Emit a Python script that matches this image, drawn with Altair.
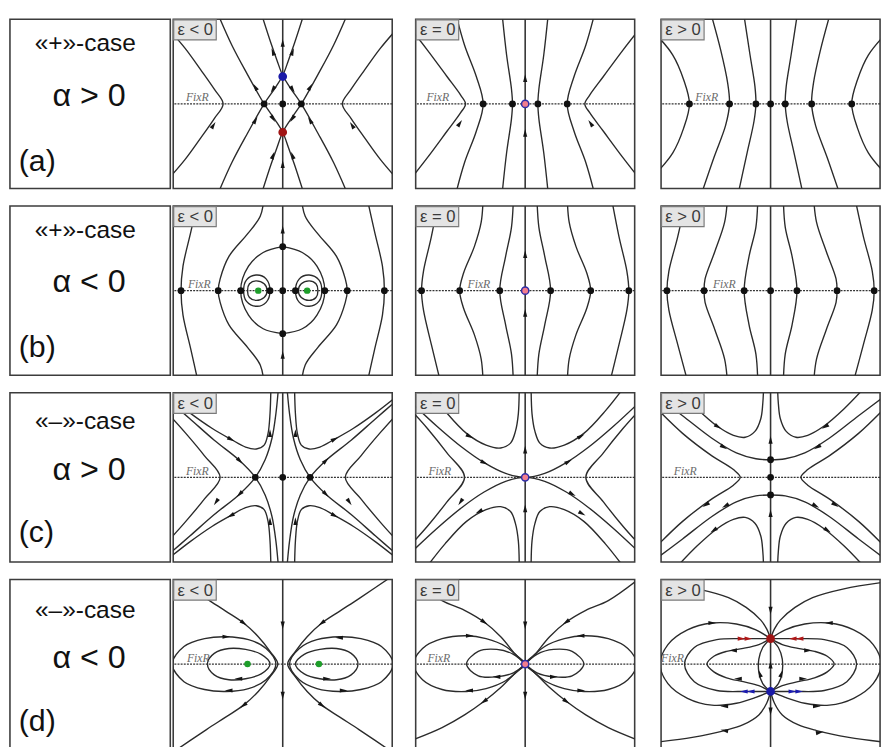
import altair as alt
import pandas as pd

# ---------------- layout / text ----------------
W, H = 224, 173
LW = 164
XDOM = [-112, 112]
YDOM = [-86.5, 86.5]

CASE_TEXT = ["«+»-case", "«+»-case", "«–»-case", "«–»-case"]
ALPHA_TEXT = ["α > 0", "α < 0", "α > 0", "α < 0"]
TAG_TEXT = ["(a)", "(b)", "(c)", "(d)"]
CASE_Y = [24, 25, 29, 31]
ALPHA_Y = [79, 78, 79, 81]
TAG_Y = [146, 145, 144, 146]
EPS_TEXT = ["ε < 0", "ε = 0", "ε > 0"]
FIXR_X = {"a1": -99, "a2": -101, "a3": -77, "b1": -97, "b2": -59, "b3": -59,
          "c1": -99, "c2": -99, "c3": -99, "d1": -98, "d2": -100, "d3": -112}

# ---------------- panel data (offsets from the panel centre, y up) ----------------
A1_CURVES = [
    ("x", [(-118, 78), (-100, 57), (-84, 35), (-70, 15), (-61, 0), (-70, -15), (-84, -35), (-100, -57), (-118, -78)]),
    ("xy", [(-68, 96), (-52, 60), (-36, 30), (-19, 0), (-8, -16), (0, -29), (6, -45), (12, -62), (23, -96)]),
]
A1_LOOPS = []
A1_ARROWS = [(-71, -22, 32), (71, -22, 328), (-28, 17, 330), (28, 17, 30), (-28, -17, 30), (28, -17, 330),
             (-10, 15, 213), (10, 15, 147), (-10, -15, 147), (10, -15, 213), (10, 53, 20), (-10, 53, 340),
             (10, -53, 340), (-10, -53, 20), (0, 62, 0), (0, -62, 0)]
A1_DOTS = [(-19, 0, "k"), (0, 0, "k"), (19, 0, "k"), (0, 28, "b"), (0, -29, "r")]

A2_CURVES = [
    ("x", [(-118, 78), (-100, 55), (-80, 28), (-66, 9), (-61, 0), (-66, -9), (-80, -28), (-100, -55), (-118, -78)]),
    ("x", [(-72, 96), (-62, 60), (-50, 28), (-43, 0), (-50, -28), (-62, -60), (-72, -96)]),
    ("x", [(-24, 96), (-19, 50), (-14, 15), (-13, 0), (-14, -15), (-19, -50), (-24, -96)]),
]
A2_LOOPS = []
A2_ARROWS = [(-67, -20, 35), (67, -20, 325), (0, 26, 0), (0, -30, 0)]
A2_DOTS = [(-43, 0, "k"), (-13, 0, "k"), (13, 0, "k"), (43, 0, "k"), (0, 0, "p")]

A3_CURVES = [
    ("x", [(-118, 72), (-100, 50), (-89, 25), (-83, 0), (-89, -25), (-100, -50), (-118, -72)]),
    ("x", [(-62, 96), (-51, 55), (-44, 22), (-42, 0), (-46, -22), (-58, -55), (-72, -96)]),
    ("x", [(-28, 96), (-21, 50), (-16, 18), (-15, 0), (-17, -18), (-24, -50), (-34, -96)]),
]
A3_LOOPS = []
A3_ARROWS = []
A3_DOTS = [(-83, 0, "k"), (-42, 0, "k"), (-15, 0, "k"), (0, 0, "k"), (15, 0, "k"), (42, 0, "k"), (83, 0, "k")]

B1_CURVES = [
    ("x", [(-86, 96), (-94, 60), (-102, 25), (-104, 0), (-102, -25), (-94, -60), (-86, -96)]),
    ("x", [(-19, 96), (-23, 76), (-36, 58), (-55, 35), (-64, 12), (-66, 0), (-64, -12), (-55, -35), (-36, -58), (-23, -76), (-19, -96)]),
    ("x", [(0, 45), (-20, 39), (-35, 25), (-43, 0), (-35, -25), (-20, -39), (0, -44)]),
]
B1_LOOPS = [
    ("x", [(-13, 0), (-17, 12), (-27, 16), (-37, 11), (-40, 0), (-37, -11), (-27, -16), (-17, -12)]),
    ("x", [(-16, 0), (-19, 7), (-27, 10), (-34, 7), (-36, 0), (-34, -7), (-27, -10), (-19, -7)]),
]
B1_ARROWS = [(0, 62, 0), (0, -66, 0)]
B1_DOTS = [(0, 45, "k"), (0, -44, "k"), (0, 0, "k"), (-104, 0, "k"), (-66, 0, "k"), (-43, 0, "k"), (-13, 0, "k"),
           (104, 0, "k"), (66, 0, "k"), (43, 0, "k"), (13, 0, "k"), (-25, 0, "g"), (25, 0, "g")]

B2_CURVES = [
    ("x", [(-88, 96), (-96, 55), (-104, 20), (-106, 0), (-104, -20), (-96, -55), (-86, -96)]),
    ("x", [(-43, 96), (-45, 70), (-52, 45), (-63, 18), (-67, 0), (-63, -18), (-52, -45), (-45, -70), (-43, -96)]),
    ("x", [(-12, 96), (-14, 65), (-20, 35), (-26, 0), (-20, -35), (-14, -65), (-12, -96)]),
]
B2_LOOPS = []
B2_ARROWS = [(0, 37, 0), (0, -23, 0)]
B2_DOTS = [(-106, 0, "k"), (-67, 0, "k"), (-26, 0, "k"), (26, 0, "k"), (67, 0, "k"), (106, 0, "k"), (0, 0, "p")]

B3_CURVES = [
    ("x", [(-86, 96), (-95, 55), (-104, 20), (-106, 0), (-104, -20), (-95, -55), (-84, -96)]),
    ("x", [(-44, 96), (-47, 70), (-57, 40), (-67, 12), (-68, 0), (-67, -12), (-57, -40), (-47, -70), (-44, -96)]),
    ("x", [(-13, 96), (-15, 65), (-22, 35), (-27, 0), (-22, -35), (-15, -65), (-13, -96)]),
]
B3_LOOPS = []
B3_ARROWS = []
B3_DOTS = [(-106, 0, "k"), (-68, 0, "k"), (-27, 0, "k"), (0, 0, "k"), (27, 0, "k"), (68, 0, "k"), (106, 0, "k")]

C1_CURVES = [
    ("x", [(-118, 66), (-100, 46), (-80, 22), (-64, 0), (-80, -22), (-100, -46), (-118, -66)]),
    ("xy", [(-118, 84), (-95, 66), (-72, 50), (-53, 39), (-38, 31), (-27, 29), (-19, 33), (-15, 45), (-13, 65), (-12, 96)]),
    ("xy", [(-118, 80), (-95, 60), (-70, 38), (-45, 18), (-28, 0), (-18, -18), (-11, -40), (-7, -65), (-4, -96)]),
]
C1_LOOPS = []
C1_ARROWS = [(-53, 39, 118), (-44, 17, 135), (-13, 45, 0), (-53, -39, 242), (-44, -17, 225), (-13, -45, 0),
             (53, 39, 62), (44, 17, 45), (13, 45, 0), (53, -39, 118), (44, -17, 135), (13, -45, 0),
             (-68, -25, 215), (68, -25, 145)]
C1_DOTS = [(-28, 0, "k"), (0, 0, "k"), (28, 0, "k")]

C2_CURVES = [
    ("x", [(-118, 70), (-100, 50), (-80, 25), (-62, 0), (-80, -25), (-100, -50), (-118, -70)]),
    ("xy", [(-104, 96), (-82, 68), (-60, 45), (-40, 33), (-25, 30), (-15, 35), (-10, 47), (-7, 65), (-6, 96)]),
    ("y", [(-118, 78), (-90, 52), (-65, 31), (-42, 15), (-20, 4), (0, 0), (20, 4), (42, 15), (65, 31), (90, 52), (118, 78)]),
]
C2_LOOPS = []
C2_ARROWS = [(-57, 42, 118), (-42, 15, 115), (-66, -25, 215), (-47, -35, 242), (44, 16, 60), (48, -17, 120),
             (58, -37, 120), (57, 42, 62), (0, 28, 0), (0, -32, 0)]
C2_DOTS = [(0, 0, "p")]

C3_CURVES = [
    ("x", [(-118, 72), (-90, 45), (-60, 22), (-38, 8), (-31, 0), (-38, -8), (-60, -22), (-90, -45), (-118, -72)]),
    ("y", [(-118, 84), (-90, 63), (-60, 40), (-35, 25), (-15, 19), (0, 18), (15, 19), (35, 25), (60, 40), (90, 63), (118, 84)]),
    ("xy", [(-100, 96), (-75, 70), (-54, 52), (-38, 43), (-26, 41), (-16, 47), (-10, 60), (-8, 75), (-7, 96)]),
]
C3_LOOPS = []
C3_ARROWS = [(0, 38, 0), (0, -37, 0), (-54, 52, 122), (-48, 31, 120), (56, 52, 238), (48, 31, 240),
             (-46, -29, 240), (46, -29, 120), (-58, -54, 236), (58, -54, 124), (-66, -28, 235), (66, -28, 125)]
C3_DOTS = [(0, 18, "k"), (0, 0, "k"), (0, -18, "k")]

D1_CURVES = [
    ("x", [(-115, 92), (-78, 67), (-58, 54), (-40, 42), (-25, 28), (-13, 13), (-5, 0), (-13, -13), (-25, -28),
           (-40, -42), (-58, -54), (-78, -67), (-115, -92)]),
]
D1_LOOPS = [
    ("x", [(-113, 0), (-101, 18), (-80, 26), (-58, 28), (-35, 25), (-17, 16), (-7, 0), (-17, -16), (-35, -25),
           (-58, -28), (-80, -26), (-101, -18)]),
    ("x", [(-77, 0), (-70, 11), (-55, 16), (-38, 15), (-22, 10), (-13, 0), (-22, -10), (-38, -15), (-55, -16), (-70, -11)]),
]
D1_ARROWS = [(-58, 28, 90), (-45, -15, 270), (-55, -27, 270), (58, 27, 270), (45, -15, 90), (62, -27, 90),
             (-40, 42, 127), (-40, -42, 233), (40, 42, 233), (40, -42, 127), (0, 40, 180), (0, -32, 180)]
D1_DOTS = [(-36, 0, "g"), (37, 0, "g")]

D2_CURVES = [
    ("x", [(0, 0), (-20, 18), (-40, 26), (-60, 29), (-85, 26), (-105, 16), (-114, 0), (-105, -16), (-85, -26),
           (-60, -28), (-40, -25), (-20, -17), (0, 0)]),
    ("x", [(0, 0), (-12, 10), (-29, 15), (-48, 13), (-60, 0), (-48, -12), (-29, -13), (-12, -9), (0, 0)]),
    ("x", [(-116, 87), (-85, 65), (-62, 55), (-42, 43), (-25, 28), (-10, 10), (0, 0), (-10, -9), (-25, -24),
           (-42, -38), (-62, -52), (-85, -65), (-116, -78)]),
]
D2_LOOPS = []
D2_ARROWS = [(-42, 43, 125), (-42, -38, 235), (42, 43, 235), (42, -38, 125), (-57, 29, 90), (-57, -27, 270),
             (-29, -13, 270), (57, 29, 270), (29, -13, 90), (57, -27, 90), (0, 40, 180), (0, -32, 180)]
D2_DOTS = [(0, 0, "p")]

D3_CURVES = [
    ("x", [(0, -28), (-8, -20), (-12, -8), (-12, 5), (-8, 17), (0, 26)]),
    ("x", [(0, 26), (-12, 20), (-28, 16), (-45, 13), (-58, 8), (-65, 0), (-58, -8), (-45, -14), (-28, -18), (-12, -22), (0, -28)]),
    ("x", [(0, 26), (-25, 26), (-55, 25), (-78, 17), (-88, 0), (-78, -18), (-55, -27), (-25, -28), (0, -28)]),
    ("x", [(0, 26), (-15, 35), (-35, 41), (-60, 42), (-85, 35), (-105, 20), (-113, 0), (-105, -20), (-85, -35),
           (-60, -42), (-35, -40), (-15, -34), (0, -28)]),
    ("x", [(0, 26), (-4, 36), (-10, 45), (-25, 58), (-43, 68), (-75, 77), (-118, 84)]),
    ("x", [(0, -28), (-4, -40), (-12, -52), (-28, -62), (-47, -68), (-80, -75), (-118, -80)]),
]
D3_LOOPS = []
D3_ARROWS = [(-30, 26, 90, "r"), (-23, 26, 90, "r"), (23, 26, 270, "r"), (30, 26, 270, "r"),
             (-27, -28, 270, "b"), (-20, -28, 270, "b"), (22, -28, 90, "b"), (29, -28, 90, "b"),
             (0, 55, 180), (0, -48, 180), (0, -1, 0), (-11, -10, 342), (11, -10, 18),
             (-60, 42, 90), (60, 42, 270), (-47, -43, 270), (47, -43, 90),
             (-38, 14, 270), (38, 14, 90), (-33, -15, 270), (33, -15, 90),
             (-47, -68, 280), (50, -70, 80)]
D3_DOTS = [(0, 26, "r"), (0, -28, "b")]

PANELS = {
    "a1": (A1_CURVES, A1_LOOPS, A1_ARROWS, A1_DOTS),
    "a2": (A2_CURVES, A2_LOOPS, A2_ARROWS, A2_DOTS),
    "a3": (A3_CURVES, A3_LOOPS, A3_ARROWS, A3_DOTS),
    "b1": (B1_CURVES, B1_LOOPS, B1_ARROWS, B1_DOTS),
    "b2": (B2_CURVES, B2_LOOPS, B2_ARROWS, B2_DOTS),
    "b3": (B3_CURVES, B3_LOOPS, B3_ARROWS, B3_DOTS),
    "c1": (C1_CURVES, C1_LOOPS, C1_ARROWS, C1_DOTS),
    "c2": (C2_CURVES, C2_LOOPS, C2_ARROWS, C2_DOTS),
    "c3": (C3_CURVES, C3_LOOPS, C3_ARROWS, C3_DOTS),
    "d1": (D1_CURVES, D1_LOOPS, D1_ARROWS, D1_DOTS),
    "d2": (D2_CURVES, D2_LOOPS, D2_ARROWS, D2_DOTS),
    "d3": (D3_CURVES, D3_LOOPS, D3_ARROWS, D3_DOTS),
}

# ---------------- styles ----------------
LINE_COLOR = "#2b2b2b"
DOT_STYLE = {"k": ("#111111", "#111111", 30), "b": ("#1a1aa8", "#1a1aa8", 55),
             "r": ("#a01414", "#a01414", 55), "g": ("#1e9e2a", "#1e9e2a", 26),
             "p": ("#f27d8d", "#2e2ea8", 55)}
ARROW_COLOR = {"k": "#151515", "r": "#b01818", "b": "#1a1ab0"}
ARROW_PATH = "M0,-1L0.5,0.85L-0.5,0.85Z"
FONT = "Liberation Sans"


def expand(curves):
    out = []
    for code, pts in curves:
        out.append(pts)
        if "x" in code:
            out.append([(-x, y) for x, y in pts])
        if "y" in code:
            out.append([(x, -y) for x, y in pts])
        if "x" in code and "y" in code:
            out.append([(-x, -y) for x, y in pts])
    return out


def curve_frame(curves):
    rows = []
    for cid, pts in enumerate(expand(curves)):
        for k, (x, y) in enumerate(pts):
            rows.append({"cid": cid, "k": k, "x": x, "y": y})
    return pd.DataFrame(rows)


def make_panel(key, col):
    curves, loops, arrows, dots = PANELS[key]
    xs = alt.Scale(domain=XDOM, nice=False, zero=False)
    ys = alt.Scale(domain=YDOM, nice=False, zero=False)
    X = alt.X("x:Q", scale=xs, axis=None)
    Y = alt.Y("y:Q", scale=ys, axis=None)
    layers = []
    layers.append(alt.Chart(pd.DataFrame({"x": [0]})).mark_rule(color="#333333", strokeWidth=1.6).encode(x=X))
    layers.append(alt.Chart(pd.DataFrame({"y": [0]})).mark_rule(color="#333333", strokeWidth=1.3, strokeDash=[2, 1.2]).encode(y=Y))
    layers.append(alt.Chart(curve_frame(curves)).mark_line(
        interpolate="catmull-rom", clip=True, color=LINE_COLOR, strokeWidth=1.4).encode(
        x=X, y=Y, detail="cid:N", order="k:Q"))
    if loops:
        layers.append(alt.Chart(curve_frame(loops)).mark_line(
            interpolate="cardinal-closed", clip=True, color=LINE_COLOR, strokeWidth=1.4).encode(
            x=X, y=Y, detail="cid:N", order="k:Q"))
    layers.append(alt.Chart(pd.DataFrame({"x": [FIXR_X[key]], "y": [2.5], "t": ["FixR"]})).mark_text(
        align="left", baseline="alphabetic", font="Liberation Serif", fontStyle="italic", fontSize=12,
        color="#6a6a6a").encode(x=X, y=Y, text="t:N"))
    if arrows:
        arows = []
        for a in arrows:
            c = a[3] if len(a) > 3 else "k"
            arows.append({"x": a[0], "y": a[1], "ang": a[2] % 360, "col": ARROW_COLOR[c]})
        layers.append(alt.Chart(pd.DataFrame(arows)).mark_point(
            shape=ARROW_PATH, filled=True, size=72, opacity=1).encode(
            x=X, y=Y, angle=alt.Angle("ang:Q", scale=None), color=alt.Color("col:N", scale=None)))
    drows = []
    for x, y, s in dots:
        f, st, sz = DOT_STYLE[s]
        drows.append({"x": x, "y": y, "f": f, "s": st, "sz": sz})
    layers.append(alt.Chart(pd.DataFrame(drows)).mark_point(
        shape="circle", filled=True, opacity=1, strokeWidth=1.5, strokeOpacity=1).encode(
        x=X, y=Y, fill=alt.Fill("f:N", scale=None), stroke=alt.Stroke("s:N", scale=None),
        size=alt.Size("sz:Q", scale=None)))
    lab = pd.DataFrame({"t": [EPS_TEXT[col]]})
    layers.append(alt.Chart(lab).mark_rect(fill="#e4e4e4", stroke="#7a7a7a", strokeWidth=1.2).encode(
        x=alt.value(0.5), x2=alt.value(44), y=alt.value(0.5), y2=alt.value(21)))
    layers.append(alt.Chart(lab).mark_text(font=FONT, fontSize=17, color="#3a3a3a", align="center",
                                           baseline="middle").encode(
        x=alt.value(22.5), y=alt.value(11.5), text="t:N"))
    return alt.layer(*layers).properties(width=W, height=H)


def make_label(i):
    d = pd.DataFrame({"c": [CASE_TEXT[i]], "a": [ALPHA_TEXT[i]], "t": [TAG_TEXT[i]]})
    base = alt.Chart(d)
    l1 = base.mark_text(font=FONT, fontSize=25, color="#111111", align="center", baseline="middle").encode(
        x=alt.value(77), y=alt.value(CASE_Y[i]), text="c:N")
    l2 = base.mark_text(font=FONT, fontSize=33, color="#111111", align="center", baseline="middle").encode(
        x=alt.value(81), y=alt.value(ALPHA_Y[i]), text="a:N")
    l3 = base.mark_text(font=FONT, fontSize=31, color="#111111", align="left", baseline="middle").encode(
        x=alt.value(9), y=alt.value(TAG_Y[i]), text="t:N")
    return alt.layer(l1, l2, l3).properties(width=LW, height=H)


rows = []
for i, r in enumerate("abcd"):
    p1, p2, p3 = [make_panel(f"{r}{j + 1}", j) for j in range(3)]
    right = alt.hconcat(alt.hconcat(p1, p2, spacing=20), p3, spacing=23)
    rows.append(alt.hconcat(make_label(i), right, spacing=0))

chart = alt.vconcat(*rows, spacing=14).properties(
    padding={"left": 1, "top": 1, "right": 1, "bottom": 1}
).configure_view(stroke="#3c3c3c", strokeWidth=1.6)

chart.save("out.html", embed_options={"renderer": "svg", "actions": False})
